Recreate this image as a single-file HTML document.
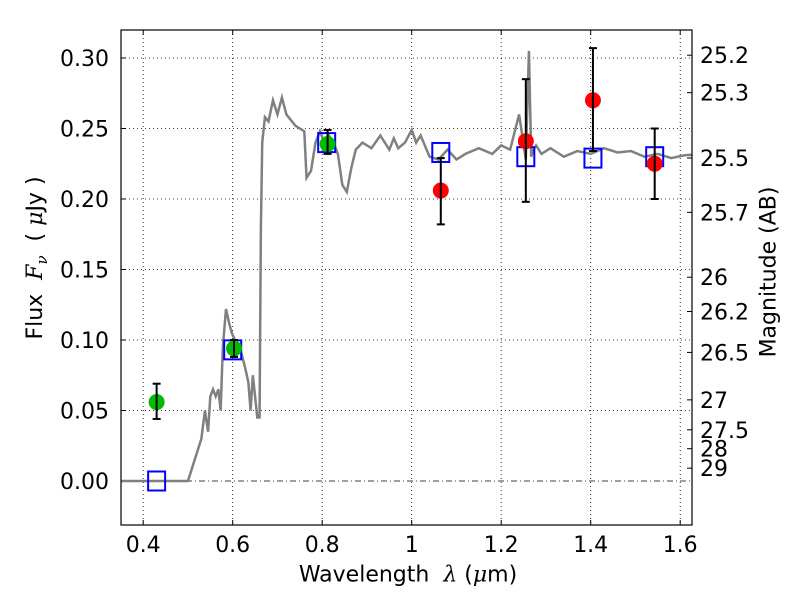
<!DOCTYPE html>
<html><head><meta charset="utf-8"><style>
body{margin:0;background:#fff;}
svg text{font-family:"DejaVu Sans","Liberation Sans",sans-serif;fill:#000;}
</style></head><body>
<svg id="c" width="800" height="600" xmlns="http://www.w3.org/2000/svg"></svg>
<script>
const specX=[0.34,0.49,0.50,0.53,0.538,0.545,0.55,0.556,0.562,0.568,0.573,0.578,0.585,0.592,0.598,0.605,0.612,0.62,0.628,0.635,0.64,0.645,0.65,0.655,0.66,0.663,0.666,0.672,0.68,0.69,0.70,0.71,0.72,0.73,0.74,0.75,0.76,0.765,0.775,0.785,0.795,0.805,0.815,0.825,0.835,0.845,0.855,0.865,0.875,0.89,0.91,0.93,0.95,0.96,0.97,0.985,1.0,1.01,1.02,1.04,1.06,1.08,1.1,1.12,1.15,1.18,1.2,1.22,1.24,1.255,1.262,1.267,1.272,1.278,1.29,1.31,1.34,1.37,1.4,1.43,1.46,1.49,1.52,1.55,1.58,1.61,1.65];
const specY=[0,0,0,0.03,0.05,0.035,0.06,0.065,0.06,0.065,0.05,0.095,0.122,0.112,0.105,0.1,0.095,0.09,0.08,0.07,0.05,0.075,0.06,0.045,0.045,0.18,0.24,0.258,0.255,0.27,0.26,0.272,0.26,0.256,0.252,0.25,0.248,0.215,0.22,0.24,0.248,0.24,0.245,0.24,0.232,0.21,0.205,0.222,0.235,0.24,0.236,0.245,0.235,0.243,0.236,0.24,0.249,0.24,0.245,0.23,0.228,0.235,0.228,0.232,0.236,0.232,0.238,0.235,0.26,0.228,0.305,0.23,0.235,0.238,0.232,0.236,0.23,0.234,0.232,0.236,0.233,0.234,0.23,0.232,0.229,0.231,0.232];
const boxX=[0.43,0.6,0.81,1.065,1.255,1.405,1.543];
const boxY=[0,0.093,0.240,0.233,0.230,0.229,0.230];
const greenX=[0.43,0.603,0.812];
const greenY=[0.056,0.094,0.239];
const greenLo=[0.044,0.088,0.232];
const greenHi=[0.069,0.100,0.249];
const redX=[1.065,1.255,1.405,1.543];
const redY=[0.206,0.241,0.270,0.225];
const redLo=[0.182,0.198,0.234,0.200];
const redHi=[0.229,0.285,0.307,0.250];
const xTicks=[0.4,0.6,0.8,1.0,1.2,1.4,1.6];
const xTickLabels=["0.4","0.6","0.8","1","1.2","1.4","1.6"];
const yTicks=[0,0.05,0.10,0.15,0.20,0.25,0.30];
const yTickLabels=["0.00","0.05","0.10","0.15","0.20","0.25","0.30"];
const magTicks=[25.2,25.3,25.5,25.7,26,26.2,26.5,27,27.5,28,29];

const L=121,R=692,T=30,B=525;
const sx=v=>143.2+(v-0.4)*447.5;
const sy=v=>481-v*1410;
const NS="http://www.w3.org/2000/svg";
const svg=document.getElementById('c');
function mk(tag,attrs,parent){const e=document.createElementNS(NS,tag);for(const k in attrs)e.setAttribute(k,attrs[k]);(parent||svg).appendChild(e);return e;}

const clip=mk('clipPath',{id:'pc'});mk('rect',{x:L,y:T,width:R-L,height:B-T},clip);
xTicks.forEach((v,i)=>{
 const g=mk('line',{x1:sx(v),x2:sx(v),y1:T,y2:B,stroke:'#000','stroke-width':0.8,'stroke-dasharray':'1,3'});
 
 
 mk('line',{x1:sx(v),x2:sx(v),y1:B,y2:B-5,stroke:'#000'});
 mk('line',{x1:sx(v),x2:sx(v),y1:T,y2:T+5,stroke:'#000'});
 const t=mk('text',{x:sx(v),y:B+27,'font-size':22,'text-anchor':'middle'});t.textContent=xTickLabels[i];
 
 
});
yTicks.forEach((v,i)=>{
 const g=mk('line',{x1:L,x2:R,y1:sy(v),y2:sy(v),stroke:'#000','stroke-width':0.8,'stroke-dasharray':v===0?'6,3,1,3':'1,3'});
 
 
 mk('line',{x1:L,x2:L+5,y1:sy(v),y2:sy(v),stroke:'#000'});
 const t=mk('text',{x:L-12,y:sy(v)+8,'font-size':22,'text-anchor':'end'});t.textContent=yTickLabels[i];
 
 
});
magTicks.forEach(m=>{
 const f=Math.pow(10,(23.9-m)/2.5);const y=sy(f);
 mk('line',{x1:R,x2:R-5,y1:y,y2:y,stroke:'#000'});
 const t=mk('text',{x:R+8,y:y+8,'font-size':22});t.textContent=String(m);
 
 
});
const g=mk('g',{'clip-path':'url(#pc)'});
const sp=mk('polyline',{points:specX.map((x,i)=>sx(x)+','+sy(specY[i])).join(' '),fill:'none',stroke:'#808080','stroke-width':2.5},g);


function errs(X,Y,Lo,Hi,color,name){
 X.forEach((x,i)=>{
  const c=mk('circle',{cx:sx(x),cy:sy(Y[i]),r:8,fill:color},g);
  
  
  const px=sx(x);
  mk('line',{x1:px,x2:px,y1:sy(Lo[i]),y2:sy(Hi[i]),stroke:'#000','stroke-width':2},g);
  mk('line',{x1:px-4,x2:px+4,y1:sy(Lo[i]),y2:sy(Lo[i]),stroke:'#000','stroke-width':2},g);
  mk('line',{x1:px-4,x2:px+4,y1:sy(Hi[i]),y2:sy(Hi[i]),stroke:'#000','stroke-width':2},g);
 });
}
boxX.forEach((x,i)=>{
 const r=mk('rect',{x:sx(x)-8.5,y:sy(boxY[i])-9.5,width:17,height:19,fill:'none',stroke:'#0000ff','stroke-width':2},g);
 
 
});
errs(greenX,greenY,greenLo,greenHi,'#00bb00','detection-point');
errs(redX,redY,redLo,redHi,'#ff0000','upper-measurement-point');
const fr=mk('rect',{x:L,y:T,width:R-L,height:B-T,fill:'none',stroke:'#000','stroke-width':1.2});


</script>
<div style="position:absolute;left:0;top:0;width:800px;height:600px;pointer-events:none;font-family:'DejaVu Sans','Liberation Sans',sans-serif;">
<div style="position:absolute;left:408px;top:575px;font-size:22px;white-space:nowrap;transform:translate(-50%,-50%);">Wavelength&nbsp; <i style="font-family:'DejaVu Serif',serif">λ</i> (<i style="font-family:'DejaVu Serif',serif">μ</i>m)</div>
<div style="position:absolute;left:37px;top:258px;font-size:22px;white-space:nowrap;transform:translate(-50%,-50%) rotate(-90deg);">Flux&nbsp; <i style="font-family:'DejaVu Serif',serif">F<sub style="font-size:15px">ν</sub></i>&nbsp; ( <i style="font-family:'DejaVu Serif',serif">μ</i>Jy )</div>
<div style="position:absolute;left:769px;top:272px;font-size:22px;white-space:nowrap;transform:translate(-50%,-50%) rotate(-90deg);">Magnitude (AB)</div>
</div>
</body></html>
